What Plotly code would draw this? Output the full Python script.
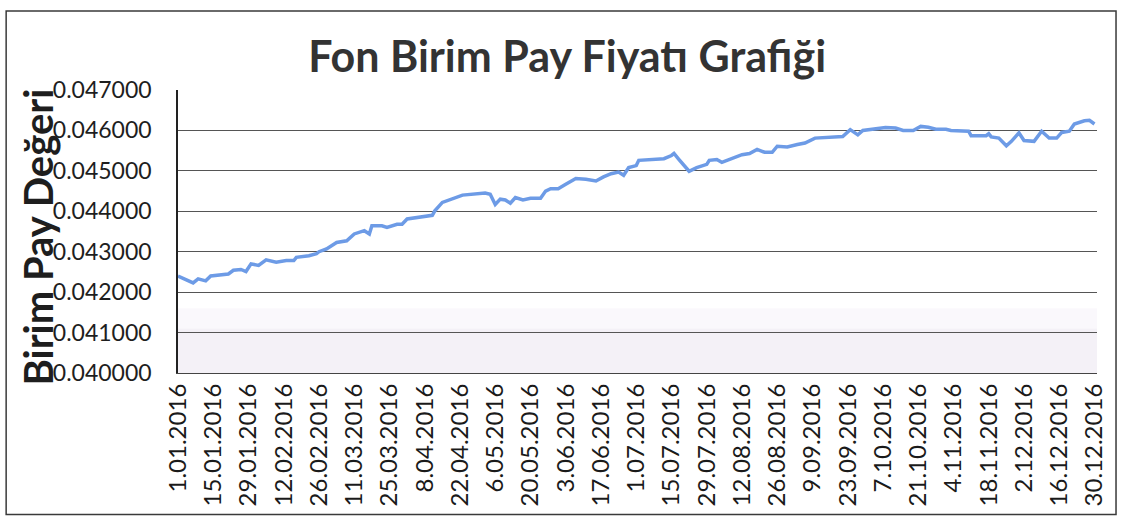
import plotly.graph_objects as go
from datetime import date, timedelta

dates = [
    "2016-01-01", "2016-01-07", "2016-01-09", "2016-01-12", "2016-01-14", "2016-01-21",
    "2016-01-23", "2016-01-26", "2016-01-28", "2016-01-30", "2016-02-02", "2016-02-05",
    "2016-02-09", "2016-02-13", "2016-02-16", "2016-02-17", "2016-02-22", "2016-02-25",
    "2016-02-26", "2016-02-29", "2016-03-04", "2016-03-08", "2016-03-11", "2016-03-15",
    "2016-03-17", "2016-03-18", "2016-03-22", "2016-03-24", "2016-03-28", "2016-03-30",
    "2016-04-01", "2016-04-07", "2016-04-11", "2016-04-12", "2016-04-15", "2016-04-23",
    "2016-04-30", "2016-05-02", "2016-05-04", "2016-05-06", "2016-05-08", "2016-05-10",
    "2016-05-12", "2016-05-14", "2016-05-17", "2016-05-20", "2016-05-24", "2016-05-26",
    "2016-05-28", "2016-05-31", "2016-06-03", "2016-06-07", "2016-06-11", "2016-06-15",
    "2016-06-18", "2016-06-21", "2016-06-24", "2016-06-26", "2016-06-28", "2016-07-01",
    "2016-07-02", "2016-07-08", "2016-07-12", "2016-07-15", "2016-07-16", "2016-07-18",
    "2016-07-22", "2016-07-25", "2016-07-29", "2016-07-30", "2016-08-02", "2016-08-04",
    "2016-08-08", "2016-08-12", "2016-08-15", "2016-08-18", "2016-08-21", "2016-08-24",
    "2016-08-26", "2016-08-30", "2016-09-03", "2016-09-06", "2016-09-10", "2016-09-14",
    "2016-09-21", "2016-09-24", "2016-09-27", "2016-09-29", "2016-10-04", "2016-10-08",
    "2016-10-12", "2016-10-15", "2016-10-19", "2016-10-22", "2016-10-25", "2016-10-28",
    "2016-11-01", "2016-11-03", "2016-11-10", "2016-11-11", "2016-11-17", "2016-11-18",
    "2016-11-19", "2016-11-22", "2016-11-25", "2016-11-27", "2016-11-30", "2016-12-02",
    "2016-12-06", "2016-12-09", "2016-12-12", "2016-12-15", "2016-12-17", "2016-12-20",
    "2016-12-22", "2016-12-26", "2016-12-28", "2016-12-30",
]

values = [
    0.04240, 0.04223, 0.04233, 0.04228, 0.04240, 0.04245,
    0.04254, 0.04256, 0.04251, 0.04270, 0.04266, 0.04280,
    0.04274, 0.04278, 0.04278, 0.04286, 0.04290, 0.04295,
    0.04300, 0.04307, 0.04323, 0.04327, 0.04344, 0.04352,
    0.04344, 0.04364, 0.04364, 0.04360, 0.04368, 0.04368,
    0.04381, 0.04387, 0.04390, 0.04401, 0.04422, 0.04440,
    0.04445, 0.04445, 0.04442, 0.04417, 0.04430, 0.04428,
    0.04420, 0.04434, 0.04428, 0.04432, 0.04432, 0.04450,
    0.04456, 0.04456, 0.04467, 0.04481, 0.04479, 0.04475,
    0.04485, 0.04493, 0.04497, 0.04489, 0.04508, 0.04513,
    0.04526, 0.04528, 0.04530, 0.04538, 0.04543, 0.04528,
    0.04499, 0.04508, 0.04516, 0.04526, 0.04528, 0.04521,
    0.04530, 0.04540, 0.04543, 0.04553, 0.04546, 0.04546,
    0.04561, 0.04559, 0.04565, 0.04569, 0.04581, 0.04583,
    0.04585, 0.04602, 0.04589, 0.04600, 0.04603, 0.04607,
    0.04606, 0.04600, 0.04600, 0.04610, 0.04608, 0.04603,
    0.04603, 0.04600, 0.04598, 0.04587, 0.04587, 0.04592,
    0.04584, 0.04581, 0.04562, 0.04573, 0.04594, 0.04575,
    0.04573, 0.04598, 0.04581, 0.04581, 0.04595, 0.04598,
    0.04616, 0.04624, 0.04625, 0.04616,
]

# x tick labels every 14 days
tick_dates = [(date(2016, 1, 1) + timedelta(days=14 * i)) for i in range(27)]
tick_vals = [d.isoformat() for d in tick_dates]
tick_text = [f"{d.day}.{d.month:02d}.{d.year}" for d in tick_dates]

y_ticks = [0.040, 0.041, 0.042, 0.043, 0.044, 0.045, 0.046, 0.047]
y_text = [f"{v:.6f}" for v in y_ticks]

fig = go.Figure()

# faint shaded band near the bottom of plot area (scan tone)
fig.add_shape(type="rect", xref="paper", yref="y", x0=0, x1=1, y0=0.0400, y1=0.0411,
              fillcolor="rgba(228,220,236,0.4)", line_width=0, layer="below")
fig.add_shape(type="rect", xref="paper", yref="y", x0=0, x1=1, y0=0.0411, y1=0.0416,
              fillcolor="rgba(238,232,244,0.3)", line_width=0, layer="below")

fig.add_trace(go.Scatter(
    x=dates, y=values, mode="lines",
    line=dict(color="#6d9be6", width=3.5),
    hoverinfo="skip", showlegend=False,
))

# outer chart border
fig.add_shape(type="rect", xref="paper", yref="paper",
              x0=-0.187, x1=1.0207, y0=-0.5, y1=1.2792,
              line=dict(color="#3a3a3a", width=1.5), fillcolor="rgba(0,0,0,0)")

fig.add_annotation(
    text="<b>Birim Pay Değeri</b>", xref="paper", yref="paper",
    x=-0.152, y=0.48, textangle=-90, showarrow=False,
    font=dict(family="Lato", size=40, color="#1e1e1e"),
    xanchor="center", yanchor="middle",
)

fig.update_layout(
    width=1123, height=520,
    margin=dict(l=178, r=26, t=90, b=147),
    paper_bgcolor="white", plot_bgcolor="white",
    title=dict(text="<b>Fon Birim Pay Fiyatı Grafiği</b>", x=0.505, xref="container",
               y=0.89, yref="container", xanchor="center", yanchor="middle",
               font=dict(family="Lato", size=43, color="#333333")),
    xaxis=dict(
        type="date", range=["2016-01-01", "2016-12-31"],
        tickmode="array", tickvals=tick_vals, ticktext=tick_text,
        tickangle=-90, showgrid=False, showline=True, linecolor="#444444", linewidth=1.2,
        ticks="", tickfont=dict(family="Lato", size=24, color="#1a1a1a"),
        zeroline=False,
    ),
    yaxis=dict(
        range=[0.040, 0.047], tickmode="array", tickvals=y_ticks, ticktext=y_text,
        showgrid=True, gridcolor="#555555", gridwidth=1,
        showline=True, linecolor="#222222", linewidth=1.5,
        ticks="outside", ticklen=20, tickcolor="rgba(0,0,0,0)",
        tickfont=dict(family="Lato", size=23, color="#1e1e1e"),
        zeroline=False,
    ),
)

fig.write_html("out.html", config={"displayModeBar": False},
               post_script="document.body.style.margin='0';document.body.style.padding='0';")
